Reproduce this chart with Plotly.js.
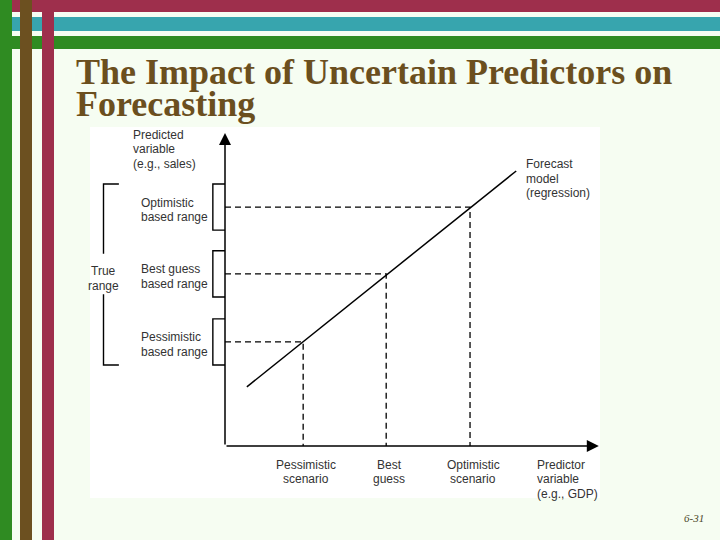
<!DOCTYPE html>
<html>
<head>
<meta charset="utf-8">
<script src="https://cdn.plot.ly/plotly-3.0.1.min.js"></script>
<style>
html,body{margin:0;padding:0;background:#f6fdf2;}
#chart{width:720px;height:540px;}
</style>
</head>
<body>
<div id="chart"></div>
<script>
// ---- Diagram data (diagram units) ----
const scenarioLabels = [['Pessimistic', 'scenario'], ['Best', 'guess'], ['Optimistic', 'scenario']];
const scenarioX = [1.93, 3.98, 6.05];          // predictor values of the scenarios
const forecastY = [2.57, 4.25, 5.90];          // forecast (predicted) values for each scenario
const rangeLabels = [['Pessimistic', 'based range'], ['Best guess', 'based range'], ['Optimistic', 'based range']];
const regressionX = [0.54, 7.19];              // forecast model line end points
const regressionY = [1.46, 6.79];
const axisEnd = {x: 9.23, y: 7.73};
const yAxisLabel = ['Predicted', 'variable', '(e.g., sales)'];
const xAxisLabel = ['Predictor', 'variable', '(e.g., GDP)'];
const modelLabel = ['Forecast', 'model', '(regression)'];
const trueRangeLabel = ['True', 'range'];
const titleLines = ['The Impact of Uncertain Predictors on', 'Forecasting'];
const slideNumber = '6-31';

// ---- Layout constants ----
const W = 720, H = 540;
const unit = 40.5, ox = 225, oy = 446;        // pixel position of the diagram origin
const rangeHalf = 0.57;                       // half height of a range bracket
const boxDepth = 0.3;
const bracketX = -3.0, bracketTick = -2.62, bracketGap = 0.5;
const lineStep = 14.5;
const ink = '#000';
const textFont = {family: 'Liberation Sans, Arial, sans-serif', size: 12, color: '#333', shadow: 'none'};

const px = x => x / W;
const py = y => 1 - y / H;
function rect(x0, y0, x1, y1, color) {
  return {type: 'rect', xref: 'paper', yref: 'paper', x0: px(x0), x1: px(x1),
          y0: py(y1), y1: py(y0), fillcolor: color, line: {width: 0}, layer: 'below'};
}

// ---- Traces ----
const traces = [];
traces.push({x: regressionX, y: regressionY, mode: 'lines', type: 'scatter',
             line: {color: ink, width: 1.5}, hoverinfo: 'skip'});

const dx = [], dy = [];
scenarioX.forEach((sx, i) => {
  dx.push(0, sx, sx, null);
  dy.push(forecastY[i], forecastY[i], 0, null);
});
traces.push({x: dx, y: dy, mode: 'lines', type: 'scatter',
             line: {color: ink, width: 1.3, dash: '6px,4px'}, hoverinfo: 'skip'});

const bx = [], by = [];
forecastY.forEach(v => {
  bx.push(0, -boxDepth, -boxDepth, 0, null);
  by.push(v + rangeHalf, v + rangeHalf, v - rangeHalf, v - rangeHalf, null);
});
traces.push({x: bx, y: by, mode: 'lines', type: 'scatter',
             line: {color: ink, width: 1.4}, hoverinfo: 'skip'});

const tTop = forecastY[2] + rangeHalf, tBot = forecastY[0] - rangeHalf, tMid = forecastY[1];
traces.push({
  x: [bracketTick, bracketX, bracketX, null, bracketX, bracketX, bracketTick],
  y: [tTop, tTop, tMid + bracketGap, null, tMid - bracketGap, tBot, tBot],
  mode: 'lines', type: 'scatter', line: {color: ink, width: 1.4}, hoverinfo: 'skip'});

// ---- Annotations ----
const ann = [];
function lines(arr, x, y, xanchor, firstShift, opts) {
  arr.forEach((t, i) => {
    ann.push(Object.assign({
      text: t, x: x, y: y, xref: 'x', yref: 'y', xanchor: xanchor, yanchor: 'middle',
      showarrow: false, font: textFont, yshift: -(firstShift + i * lineStep)
    }, opts || {}));
  });
}
// axes with arrow heads
ann.push({x: axisEnd.x, y: 0, ax: 0, ay: 0, axref: 'x', ayref: 'y', xref: 'x', yref: 'y',
          text: '', showarrow: true, arrowhead: 2, arrowsize: 1.6, arrowwidth: 1.5,
          arrowcolor: ink, standoff: 0, startstandoff: 0});
ann.push({x: 0, y: axisEnd.y, ax: 0, ay: 0, axref: 'x', ayref: 'y', xref: 'x', yref: 'y',
          text: '', showarrow: true, arrowhead: 2, arrowsize: 1.6, arrowwidth: 1.5,
          arrowcolor: ink, standoff: 0, startstandoff: 0});

lines(yAxisLabel, (131 - ox) / unit, axisEnd.y, 'left', 2);
forecastY.forEach((v, i) => lines(rangeLabels[i], (139 - ox) / unit, v, 'left', -4.5));
lines(trueRangeLabel, bracketX, tMid, 'center', -2.5);
scenarioX.forEach((sx, i) => lines(scenarioLabels[i], sx, 0, 'center', 18.5, {xshift: 3}));
lines(xAxisLabel, (535 - ox) / unit, 0, 'left', 18.5);
lines(modelLabel, regressionX[1] + 0.2, regressionY[1], 'left', -7);

// title
const titleFont = {family: 'Liberation Serif, Times New Roman, serif', size: 36, color: '#6b4f1e',
                   weight: 'bold', shadow: 'none'};
titleLines.forEach((t, i) => {
  ann.push({text: t, xref: 'paper', yref: 'paper', x: px(74), y: py(72 + i * 32),
            xanchor: 'left', yanchor: 'middle', showarrow: false, font: titleFont});
});
ann.push({text: '<i>' + slideNumber + '</i>', xref: 'paper', yref: 'paper', x: px(694), y: py(518),
          xanchor: 'center', yanchor: 'middle', showarrow: false,
          font: {family: 'Liberation Serif, Times New Roman, serif', size: 11, color: '#4a4628', shadow: 'none'}});

// ---- Decorative slide frame ----
const shapes = [
  rect(90, 127, 600, 498, '#ffffff'),
  rect(12, 0, 720, 12, '#9e2f4c'),
  rect(12, 17, 720, 31, '#37a5ae'),
  rect(12, 36, 720, 49, '#2f8b22'),
  rect(20, 0, 32, 540, '#6c5020'),
  rect(42, 0, 54, 540, '#9e2f4c'),
  rect(0, 0, 12, 540, '#2f8b22')
];

const layout = {
  width: W, height: H,
  margin: {l: 0, r: 0, t: 0, b: 0, pad: 0},
  paper_bgcolor: '#f6fdf2', plot_bgcolor: 'rgba(0,0,0,0)',
  showlegend: false,
  xaxis: {range: [-ox / unit, (W - ox) / unit], visible: false, fixedrange: true},
  yaxis: {range: [(oy - H) / unit, oy / unit], visible: false, fixedrange: true},
  shapes: shapes,
  annotations: ann
};

Plotly.newPlot('chart', traces, layout, {staticPlot: true, displayModeBar: false});
</script>
</body>
</html>
